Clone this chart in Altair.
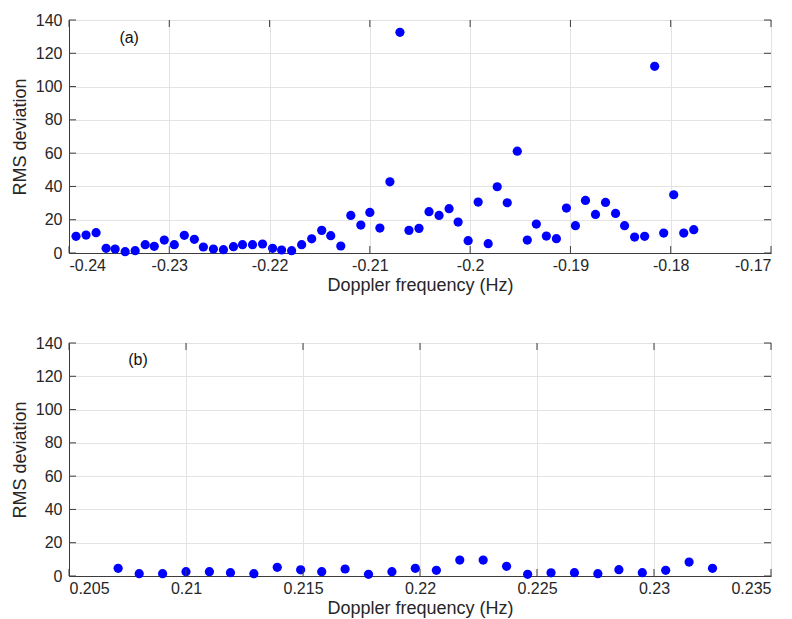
import altair as alt
import pandas as pd

# ---- data ----
freq_a = [-0.2393, -0.2383, -0.2373, -0.2363, -0.2354, -0.2344, -0.2334, -0.2324,
          -0.2315, -0.2305, -0.2295, -0.2285, -0.2275, -0.2266, -0.2256, -0.2246,
          -0.2236, -0.2227, -0.2217, -0.2207, -0.2197, -0.2188, -0.2178, -0.2168,
          -0.2158, -0.2148, -0.2139, -0.2129, -0.2119, -0.2109, -0.2100, -0.2090,
          -0.2080, -0.2070, -0.2061, -0.2051, -0.2041, -0.2031, -0.2021, -0.2012,
          -0.2002, -0.1992, -0.1982, -0.1973, -0.1963, -0.1953, -0.1943, -0.1934,
          -0.1924, -0.1914, -0.1904, -0.1895, -0.1885, -0.1875, -0.1865, -0.1855,
          -0.1846, -0.1836, -0.1826, -0.1816, -0.1807, -0.1797, -0.1787, -0.1777]
rms_a = [10.0, 10.8, 12.2, 2.8, 2.4, 0.8, 1.4, 5.0,
         4.0, 7.8, 5.0, 10.6, 8.2, 3.6, 2.4, 2.0,
         3.8, 5.0, 5.0, 5.4, 2.8, 1.8, 1.4, 5.0,
         8.5, 13.6, 10.4, 4.2, 22.6, 16.8, 24.4, 15.0,
         42.8, 132.6, 13.6, 14.8, 24.8, 22.6, 26.6, 18.6,
         7.4, 30.6, 5.6, 39.8, 30.2, 61.2, 7.8, 17.4,
         10.2, 8.6, 27.0, 16.4, 31.6, 23.2, 30.4, 23.8,
         16.4, 9.6, 10.0, 112.2, 12.0, 35.0, 12.0, 14.0]

freq_b = [0.2071, 0.2080, 0.2090, 0.2100, 0.2110, 0.2119, 0.2129, 0.2139,
          0.2149, 0.2158, 0.2168, 0.2178, 0.2188, 0.2198, 0.2207, 0.2217,
          0.2227, 0.2237, 0.2246, 0.2256, 0.2266, 0.2276, 0.2285, 0.2295,
          0.2305, 0.2315, 0.2325]
rms_b = [4.6, 1.4, 1.4, 2.6, 2.6, 2.0, 1.4, 5.2,
         3.7, 2.6, 4.2, 1.0, 2.6, 4.6, 3.4, 9.6,
         9.6, 5.8, 1.0, 1.9, 2.0, 1.4, 3.8, 2.0,
         3.4, 8.4, 4.6]

xticks_a = [-0.24, -0.23, -0.22, -0.21, -0.2, -0.19, -0.18, -0.17]
xticks_b = [0.205, 0.21, 0.215, 0.22, 0.225, 0.23, 0.235]
yticks = [0, 20, 40, 60, 80, 100, 120, 140]

label_a = ["(a)"]; label_a_x = [-0.234]; label_a_y = [129]
label_b = ["(b)"]; label_b_x = [0.20795]; label_b_y = [130]

W, H = 702, 233
TICK = 7
FRAME = "#3c3c3c"
FONT = "Liberation Sans"


def panel(freqs, rms, xticks, lab, lx, ly):
    dom = [xticks[0], xticks[-1]]
    xs = alt.Scale(domain=dom, nice=False, zero=False)
    ys = alt.Scale(domain=[0, 140], nice=False, zero=False)
    xa = alt.Axis(values=xticks, title="Doppler frequency (Hz)",
                  labelExpr="'' + datum.value")
    ya = alt.Axis(values=yticks, title="RMS deviation",
                  labelExpr="'' + datum.value")
    df = pd.DataFrame({"f": freqs, "r": rms})
    pts = alt.Chart(df).mark_circle(size=85, color="#0000ff", opacity=1).encode(
        x=alt.X("f:Q", scale=xs, axis=xa),
        y=alt.Y("r:Q", scale=ys, axis=ya),
    )
    tx = pd.DataFrame({"t": xticks})
    ty = pd.DataFrame({"t": yticks})
    xb = alt.Chart(tx).mark_rule(color=FRAME, strokeWidth=1).encode(
        x=alt.X("t:Q", scale=xs, axis=xa), y=alt.value(H), y2=alt.value(H - TICK))
    xt = alt.Chart(tx).mark_rule(color=FRAME, strokeWidth=1).encode(
        x=alt.X("t:Q", scale=xs, axis=xa), y=alt.value(0), y2=alt.value(TICK))
    yl = alt.Chart(ty).mark_rule(color=FRAME, strokeWidth=1).encode(
        y=alt.Y("t:Q", scale=ys, axis=ya), x=alt.value(0), x2=alt.value(TICK))
    yr = alt.Chart(ty).mark_rule(color=FRAME, strokeWidth=1).encode(
        y=alt.Y("t:Q", scale=ys, axis=ya), x=alt.value(W), x2=alt.value(W - TICK))
    ldf = pd.DataFrame({"x": lx, "y": ly, "s": lab})
    txt = alt.Chart(ldf).mark_text(fontSize=16, font=FONT, color="#111").encode(
        x=alt.X("x:Q", scale=xs, axis=xa), y=alt.Y("y:Q", scale=ys, axis=ya),
        text="s:N")
    return alt.layer(pts, xb, xt, yl, yr, txt).properties(width=W, height=H)


chart = alt.vconcat(
    panel(freq_a, rms_a, xticks_a, label_a, label_a_x, label_a_y),
    panel(freq_b, rms_b, xticks_b, label_b, label_b_x, label_b_y),
    spacing=39,
).properties(
    padding={"left": 2, "top": 3, "right": 5, "bottom": 0}
).configure_view(
    stroke=FRAME, strokeWidth=1
).configure_axis(
    grid=True, gridColor="#e3e3e3", gridWidth=1,
    domain=True, domainColor=FRAME, ticks=False,
    labelOverlap=False,
    labelFont=FONT, labelFontSize=16, labelColor="#262626",
    titleFont=FONT, titleFontSize=18, titleFontWeight="normal", titleColor="#262626",
).configure_axisX(labelPadding=4, titlePadding=3).configure_axisY(labelPadding=7, titlePadding=6)

chart.save("out.html", embed_options={"renderer": "svg", "actions": False})
